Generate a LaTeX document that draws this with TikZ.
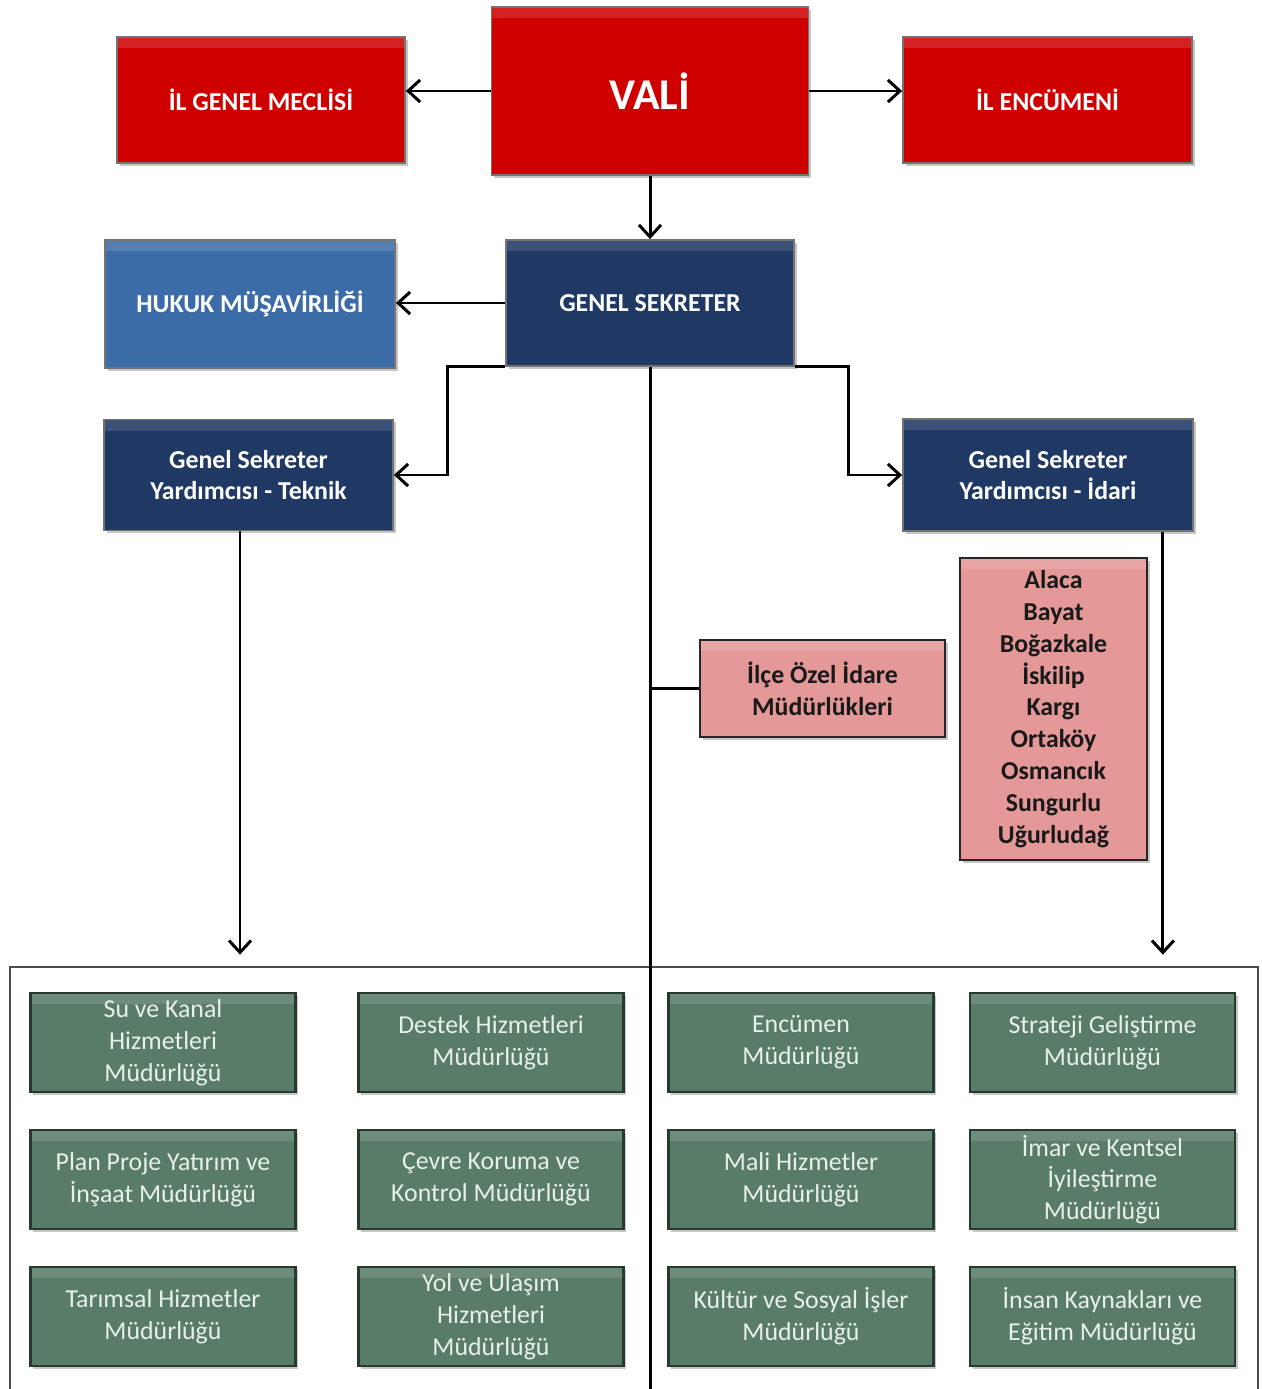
\documentclass[tikz,border=0pt]{standalone}
\usepackage{fontspec}
\setmainfont{Carlito}
\usetikzlibrary{arrows.meta,shadows}

\definecolor{valired}{RGB}{206,0,0}
\definecolor{navy}{RGB}{31,56,100}
\definecolor{hukukblue}{RGB}{60,108,168}
\definecolor{ilcepink}{RGB}{228,152,152}
\definecolor{unitgreen}{RGB}{88,124,104}
\definecolor{unitedge}{RGB}{40,58,48}
\definecolor{unittext}{RGB}{232,240,234}

\tikzset{
  box/.style={draw=black!55, line width=1pt, align=center, inner sep=0pt, text=white,
    font=\bfseries\fontsize{14.7}{18.1}\selectfont,
    drop shadow={shadow xshift=1.5pt, shadow yshift=-1.5pt, opacity=0.45},
    path picture={\fill[white, opacity=0.13] (path picture bounding box.north west)
      rectangle ([yshift=-0.22cm]path picture bounding box.north east);}},
  redbox/.style={box, fill=valired},
  navybox/.style={box, fill=navy},
  ilcebox/.style={box, fill=ilcepink, draw=black!85, line width=1.6pt, text=black!90},
  unit/.style={box, fill=unitgreen, draw=unitedge, line width=1.5pt, text=unittext,
    font=\fontsize{14.7}{18.1}\selectfont, minimum width=5.3cm, minimum height=1.98cm},
  link/.style={line width=1.7pt},
  arr/.style={link, -{Straight Barb[length=2.4mm,width=4.4mm]}}
}

\begin{document}
\begin{tikzpicture}
  \useasboundingbox (0,0) rectangle (25.24,-27.78);
  % top row
  \node[redbox, minimum width=6.34cm, minimum height=3.36cm,
    font=\bfseries\fontsize{25}{30}\selectfont] (vali) at (13.0,-1.82) {VALİ};
  \node[redbox, minimum width=5.76cm, minimum height=2.52cm] (meclis) at (5.22,-2.0) {İL GENEL MECLİSİ};
  \node[redbox, minimum width=5.78cm, minimum height=2.52cm] (encumen) at (20.95,-2.0) {İL ENCÜMENİ};
  \draw[arr] (vali.west) -- (vali.west -| meclis.east);
  \draw[arr] (vali.east) -- (vali.east -| encumen.west);

  % second row
  \node[navybox, minimum width=5.76cm, minimum height=2.52cm] (gs) at (13.0,-6.06) {GENEL SEKRETER};
  \node[box, fill=hukukblue, minimum width=5.8cm, minimum height=2.56cm] (hukuk) at (5.0,-6.08) {HUKUK MÜŞAVİRLİĞİ};
  \draw[arr] (vali.south) -- (gs.north);
  \draw[arr] (gs.west) -- (gs.west -| hukuk.east);

  % deputies
  \node[navybox, minimum width=5.78cm, minimum height=2.22cm] (teknik) at (4.97,-9.5) {Genel Sekreter\\Yardımcısı - Teknik};
  \node[navybox, minimum width=5.8cm, minimum height=2.24cm] (idari) at (20.96,-9.5) {Genel Sekreter\\Yardımcısı - İdari};
  \draw[arr] (gs.south west) -- ++(-1.15,0) |- (teknik.east);
  \draw[arr] (gs.south east) -- ++(1.08,0) |- (idari.west);

  % districts
  \node[ilcebox, minimum width=4.9cm, minimum height=1.94cm] (ilce) at (16.45,-13.77) {İlçe Özel İdare\\Müdürlükleri};
  \node[ilcebox, minimum width=3.74cm, minimum height=6.04cm] (ilceler) at (21.07,-14.18)
    {Alaca\\Bayat\\Boğazkale\\İskilip\\Kargı\\Ortaköy\\Osmancık\\Sungurlu\\Uğurludağ};

  % frame of the units
  \node[draw=black!70, line width=1.5pt, minimum width=24.96cm, minimum height=9.06cm, inner sep=0pt]
    (frame) at (12.68,-23.87) {};
  \coordinate (spinefoot) at (gs.south |- frame.south);
  \coordinate (teknikfoot) at ([xshift=-0.17cm]teknik.south);
  \coordinate (idarifoot) at ([xshift=-0.62cm]idari.south east);
  \draw[link] (gs.south) -- (spinefoot);
  \draw[link] (ilce.west) -- (ilce.west -| gs.south);
  \draw[arr] (teknikfoot) -- ([yshift=0.22cm]teknikfoot |- frame.north);
  \draw[arr] (idarifoot) -- ([yshift=0.22cm]idarifoot |- frame.north);

  % units
  \foreach \n/\x/\y/\txt in {
      su/3.26/-20.85/Su ve Kanal\\Hizmetleri\\Müdürlüğü,
      plan/3.26/-23.59/Plan Proje Yatırım ve\\İnşaat Müdürlüğü,
      tarim/3.26/-26.33/Tarımsal Hizmetler\\Müdürlüğü,
      destek/9.82/-20.85/Destek Hizmetleri\\Müdürlüğü,
      cevre/9.82/-23.59/Çevre Koruma ve\\Kontrol Müdürlüğü,
      yol/9.82/-26.33/Yol ve Ulaşım\\Hizmetleri\\Müdürlüğü,
      enc/16.02/-20.85/Encümen\\Müdürlüğü,
      mali/16.02/-23.59/Mali Hizmetler\\Müdürlüğü,
      kultur/16.02/-26.33/Kültür ve Sosyal İşler\\Müdürlüğü,
      strateji/22.05/-20.85/Strateji Geliştirme\\Müdürlüğü,
      imar/22.05/-23.59/İmar ve Kentsel\\İyileştirme\\Müdürlüğü,
      insan/22.05/-26.33/İnsan Kaynakları ve\\Eğitim Müdürlüğü}
    \node[unit] (\n) at (\x,\y) {\txt};
\end{tikzpicture}
\end{document}
